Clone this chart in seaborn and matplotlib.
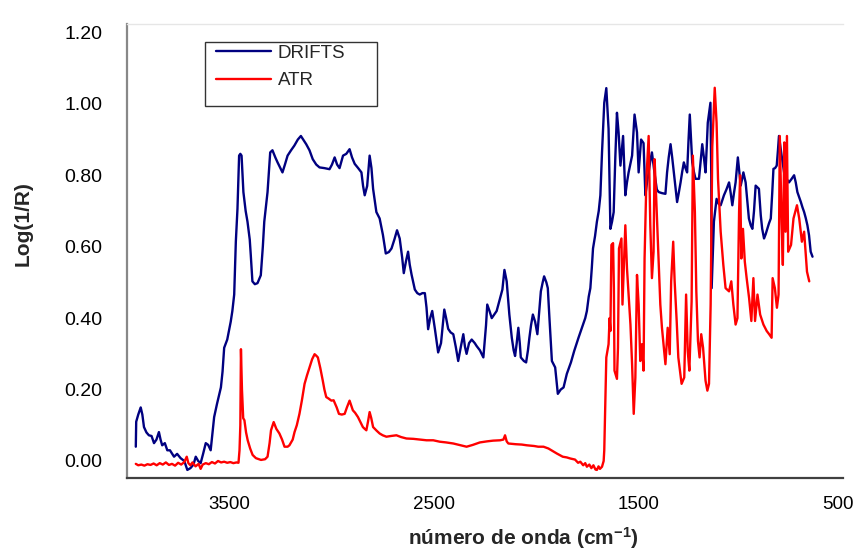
import numpy as np
import pandas as pd
import matplotlib
matplotlib.use("Agg")
import matplotlib.pyplot as plt
from matplotlib.patches import Rectangle
from matplotlib.transforms import ScaledTranslation
import seaborn as sns

# ---------------- data ----------------
drifts_wn = [3957, 3955, 3945, 3933, 3925, 3917, 3905, 3893, 3880, 3868, 3856, 3844, 3836, 3828,
             3815, 3803, 3790, 3770, 3755, 3738, 3720, 3705, 3690, 3675, 3664, 3652, 3640, 3628,
             3615, 3603, 3591, 3582, 3574, 3560, 3541, 3533, 3525, 3510, 3493, 3485, 3476, 3468,
             3460, 3452, 3446, 3440, 3431, 3420, 3411, 3400, 3395, 3387, 3375, 3362, 3346, 3336,
             3329, 3313, 3300, 3289, 3275, 3264, 3250, 3240, 3228, 3215, 3198, 3182, 3165, 3150,
             3124, 3108, 3092, 3075, 3059, 3035, 3010, 2998, 2985, 2973, 2961, 2944, 2928, 2912,
             2900, 2887, 2870, 2854, 2846, 2838, 2826, 2814, 2805, 2797, 2781, 2765, 2749, 2735,
             2720, 2707, 2693, 2680, 2667, 2655, 2647, 2636, 2626, 2618, 2609, 2593, 2581, 2569,
             2556, 2544, 2536, 2528, 2518, 2508, 2495, 2479, 2465, 2449, 2440, 2430, 2418, 2405,
             2393, 2381, 2368, 2356, 2348, 2340, 2328, 2315, 2300, 2291, 2275, 2258, 2245, 2239,
             2228, 2217, 2205, 2193, 2176, 2165, 2155, 2144, 2131, 2119, 2110, 2103, 2095, 2087,
             2080, 2075, 2060, 2049, 2040, 2033, 2025, 2016, 2005, 1994, 1985, 1977, 1968, 1961,
             1950, 1943, 1935, 1923, 1907, 1894, 1880, 1866, 1850, 1830, 1814, 1793, 1771, 1760,
             1752, 1743, 1735, 1728, 1722, 1712, 1703, 1694, 1686, 1678, 1667, 1657, 1646, 1637,
             1629, 1621, 1613, 1605, 1597, 1588, 1575, 1564, 1556, 1548, 1540, 1531, 1519, 1507,
             1499, 1487, 1475, 1466, 1458, 1450, 1442, 1434, 1420, 1410, 1401, 1385, 1368, 1360,
             1352, 1343, 1335, 1327, 1318, 1311, 1303, 1294, 1286, 1278, 1270, 1262, 1255, 1249,
             1243, 1237, 1229, 1221, 1204, 1196, 1188, 1180, 1172, 1166, 1161, 1148, 1144, 1142,
             1131, 1118, 1108, 1098, 1082, 1070, 1057, 1049, 1041, 1033, 1025, 1014, 1000, 993,
             987, 976, 968, 960, 951, 943, 935, 927, 911, 902, 895, 886, 878, 870, 862, 853,
             846, 840, 832, 824, 818, 813, 806, 800, 788, 776, 764, 751, 739, 731, 723, 706,
             698, 690, 682, 674, 666, 658, 649]
drifts_val = [0.04, 0.11, 0.13, 0.15, 0.13, 0.095, 0.08, 0.072, 0.07, 0.05, 0.06, 0.081, 0.06, 0.044,
              0.05, 0.03, 0.03, 0.012, 0.02, 0.008, 0.0, -0.025, -0.02, -0.01, 0.012, 0.0, -0.006, 0.02,
              0.05, 0.045, 0.03, 0.08, 0.123, 0.16, 0.206, 0.25, 0.317, 0.34, 0.39, 0.42, 0.466, 0.614,
              0.706, 0.855, 0.86, 0.855, 0.753, 0.70, 0.67, 0.62, 0.577, 0.503, 0.495, 0.498, 0.52, 0.60,
              0.67, 0.753, 0.864, 0.87, 0.85, 0.836, 0.82, 0.808, 0.83, 0.855, 0.87, 0.883, 0.90, 0.91,
              0.887, 0.87, 0.845, 0.83, 0.822, 0.82, 0.817, 0.83, 0.85, 0.83, 0.82, 0.855, 0.86, 0.873,
              0.85, 0.832, 0.82, 0.808, 0.77, 0.744, 0.77, 0.855, 0.82, 0.762, 0.697, 0.679, 0.633, 0.581,
              0.585, 0.595, 0.62, 0.646, 0.623, 0.57, 0.526, 0.56, 0.586, 0.55, 0.522, 0.48, 0.47, 0.466,
              0.47, 0.47, 0.43, 0.369, 0.40, 0.42, 0.37, 0.304, 0.33, 0.424, 0.40, 0.37, 0.36, 0.355,
              0.32, 0.28, 0.32, 0.355, 0.32, 0.30, 0.33, 0.34, 0.33, 0.322, 0.31, 0.29, 0.38, 0.438,
              0.42, 0.40, 0.41, 0.42, 0.456, 0.48, 0.535, 0.503, 0.41, 0.345, 0.31, 0.294, 0.33, 0.373,
              0.33, 0.29, 0.28, 0.276, 0.31, 0.345, 0.38, 0.41, 0.39, 0.355, 0.42, 0.475, 0.50, 0.517,
              0.50, 0.484, 0.40, 0.28, 0.262, 0.188, 0.20, 0.206, 0.244, 0.276, 0.308, 0.345, 0.382, 0.40,
              0.42, 0.46, 0.484, 0.54, 0.595, 0.63, 0.67, 0.70, 0.744, 0.864, 1.003, 1.044, 0.93, 0.65,
              0.67, 0.697, 0.85, 0.975, 0.92, 0.827, 0.91, 0.744, 0.78, 0.808, 0.83, 0.855, 0.97, 0.92,
              0.808, 0.90, 0.89, 0.744, 0.78, 0.808, 0.84, 0.864, 0.80, 0.76, 0.753, 0.75, 0.748, 0.808,
              0.85, 0.887, 0.85, 0.808, 0.76, 0.725, 0.75, 0.78, 0.81, 0.836, 0.82, 0.808, 0.90, 0.97,
              0.90, 0.836, 0.81, 0.79, 0.79, 0.84, 0.887, 0.85, 0.808, 0.88, 0.947, 1.003, 0.80, 0.484,
              0.67, 0.734, 0.72, 0.716, 0.744, 0.76, 0.78, 0.75, 0.716, 0.75, 0.78, 0.85, 0.771, 0.79,
              0.808, 0.78, 0.73, 0.679, 0.66, 0.65, 0.70, 0.771, 0.762, 0.688, 0.65, 0.623, 0.635, 0.65, 0.665, 0.679,
              0.75, 0.818, 0.82, 0.827, 0.87, 0.91, 0.88, 0.855, 0.808, 0.79, 0.78, 0.79, 0.80, 0.78, 0.753, 0.725,
              0.71, 0.697, 0.68, 0.66, 0.632, 0.586, 0.572]

atr_wn = [3957, 3945, 3930, 3915, 3900, 3885, 3870, 3855, 3840, 3825, 3810, 3795, 3780, 3765,
          3750, 3735, 3720, 3708, 3700, 3690, 3680, 3665, 3650, 3640, 3630, 3615, 3600, 3585,
          3570, 3555, 3540, 3525, 3510, 3495, 3480, 3465, 3455, 3450, 3446, 3443, 3438, 3432,
          3426, 3418, 3410, 3398, 3386, 3370, 3345, 3325, 3313, 3303, 3296, 3283, 3270, 3255,
          3242, 3230, 3215, 3206, 3190, 3181, 3170, 3157, 3145, 3132, 3120, 3108, 3095, 3083,
          3075, 3067, 3055, 3043, 3035, 3026, 3015, 3001, 2990, 2975, 2964, 2950, 2936, 2925,
          2912, 2904, 2896, 2885, 2871, 2860, 2847, 2838, 2830, 2822, 2814, 2806, 2797, 2780,
          2765, 2750, 2732, 2710, 2683, 2660, 2634, 2600, 2570, 2536, 2503, 2471, 2440, 2405,
          2370, 2340, 2310, 2275, 2240, 2210, 2176, 2160, 2152, 2144, 2136, 2100, 2070, 2046,
          2010, 1990, 1964, 1940, 1920, 1899, 1870, 1850, 1833, 1810, 1795, 1784, 1770, 1760,
          1752, 1740, 1730, 1720, 1710, 1703, 1695, 1688, 1678, 1670, 1667, 1657, 1646, 1641,
          1637, 1632, 1624, 1620, 1617, 1605, 1600, 1595, 1583, 1578, 1572, 1564, 1556, 1539,
          1531, 1523, 1515, 1507, 1499, 1491, 1483, 1475, 1470, 1461, 1450, 1442, 1434, 1426,
          1421, 1413, 1401, 1393, 1385, 1368, 1357, 1347, 1340, 1330, 1323, 1313, 1305, 1289,
          1276, 1267, 1259, 1251, 1240, 1234, 1224, 1217, 1209, 1201, 1193, 1184, 1172, 1163,
          1155, 1147, 1139, 1127, 1118, 1111, 1098, 1085, 1074, 1057, 1046, 1036, 1025, 1016,
          1008, 1003, 997, 989, 980, 971, 959, 948, 938, 930, 918, 905, 889, 873, 861, 849,
          844, 833, 823, 815, 809, 800, 794, 787, 781, 774, 768, 754, 742, 725, 714, 701,
          690, 676, 665]
atr_val = [-0.008, -0.012, -0.01, -0.013, -0.009, -0.011, -0.007, -0.012, -0.006, -0.01, -0.004, -0.011, -0.008, -0.013,
           -0.005, -0.01, -0.003, 0.012, -0.006, -0.012, -0.004, -0.015, -0.008, -0.022, -0.01, -0.006, -0.009, -0.003,
           -0.007, 0.0, -0.004, -0.002, -0.005, -0.003, -0.006, -0.004, -0.005, 0.03, 0.10, 0.313, 0.20, 0.12,
           0.114, 0.08, 0.058, 0.035, 0.017, 0.008, 0.003, 0.005, 0.012, 0.05, 0.086, 0.109, 0.09, 0.077,
           0.06, 0.04, 0.04, 0.044, 0.06, 0.081, 0.10, 0.132, 0.17, 0.216, 0.24, 0.262, 0.285, 0.299,
           0.295, 0.29, 0.26, 0.225, 0.20, 0.179, 0.175, 0.169, 0.17, 0.15, 0.132, 0.13, 0.132, 0.15,
           0.169, 0.155, 0.142, 0.135, 0.123, 0.11, 0.095, 0.09, 0.086, 0.11, 0.137, 0.12, 0.095, 0.085,
           0.077, 0.072, 0.068, 0.07, 0.072, 0.067, 0.063, 0.062, 0.06, 0.058, 0.058, 0.054, 0.052, 0.049,
           0.044, 0.04, 0.045, 0.052, 0.055, 0.057, 0.058, 0.06, 0.072, 0.055, 0.049, 0.047, 0.046, 0.044,
           0.042, 0.04, 0.04, 0.035, 0.028, 0.021, 0.012, 0.01, 0.007, 0.004, -0.005, -0.002, -0.012, -0.006,
           -0.016, -0.01, -0.02, -0.012, -0.024, -0.025, -0.015, -0.022, -0.016, 0.0, 0.03, 0.29, 0.327, 0.40,
           0.364, 0.605, 0.61, 0.484, 0.253, 0.23, 0.317, 0.595, 0.623, 0.438, 0.53, 0.66, 0.54, 0.382,
           0.271, 0.132, 0.234, 0.521, 0.438, 0.28, 0.327, 0.253, 0.567, 0.79, 0.91, 0.66, 0.512, 0.586,
           0.845, 0.734, 0.558, 0.438, 0.373, 0.271, 0.373, 0.299, 0.503, 0.614, 0.503, 0.392, 0.29, 0.216,
           0.234, 0.466, 0.308, 0.253, 0.447, 0.855, 0.697, 0.475, 0.336, 0.29, 0.355, 0.317, 0.225, 0.197,
           0.216, 0.438, 0.88, 1.045, 0.947, 0.79, 0.642, 0.549, 0.484, 0.475, 0.503, 0.438, 0.382, 0.40,
           0.697, 0.80, 0.567, 0.65, 0.558, 0.512, 0.456, 0.392, 0.512, 0.392, 0.466, 0.41, 0.382, 0.364, 0.355, 0.345,
           0.512, 0.484, 0.429, 0.466, 0.91, 0.67, 0.549, 0.892, 0.642, 0.91, 0.586, 0.605, 0.679, 0.716, 0.679, 0.614,
           0.642, 0.53, 0.503]

series_names = ["DRIFTS", "ATR"]
series_colors = ["#000080", "#FF0000"]
x_ticks = [3500, 2500, 1500, 500]
y_ticks = [0.0, 0.2, 0.4, 0.6, 0.8, 1.0, 1.2]

# ---------------- build table ----------------
df = pd.concat([
    pd.DataFrame({"wn": drifts_wn, "val": drifts_val, "serie": series_names[0]}),
    pd.DataFrame({"wn": atr_wn, "val": atr_val, "serie": series_names[1]}),
], ignore_index=True)

sns.set_style("white")
plt.rcParams["font.family"] = ["Liberation Sans", "DejaVu Sans"]
plt.rcParams["mathtext.fontset"] = "custom"
plt.rcParams["mathtext.bf"] = "Liberation Sans:bold"
plt.rcParams["mathtext.rm"] = "Liberation Sans:bold"
plt.rcParams["mathtext.default"] = "bf"

fig = plt.figure(figsize=(8.56, 5.54), dpi=100)
ax = fig.add_axes([127 / 856, 1 - 478 / 554, (843 - 127) / 856, (478 - 24) / 554])

sns.lineplot(data=df, x="wn", y="val", hue="serie", palette=dict(zip(series_names, series_colors)),
             sort=False, estimator=None, units="serie", linewidth=1.7, ax=ax, legend=False)

ax.set_xlim(4000, 500)
ax.set_ylim(-0.0476, 1.2235)
ax.set_xticks(x_ticks)
ax.set_xticklabels([str(t) for t in x_ticks])
ax.set_yticks(y_ticks)
ax.set_yticklabels([f"{t:.2f}" for t in y_ticks])
ax.set_xlabel("")
ax.set_ylabel("")

ax.tick_params(axis="x", direction="out", length=5, width=1, color="#404040",
               labelsize=13.5, pad=8, labelcolor="black")
ax.tick_params(axis="y", length=0, labelsize=14, pad=18, labelcolor="black")

ax.spines["right"].set_visible(False)
ax.spines["top"].set_color("#e6e6e6")
ax.spines["top"].set_linewidth(1.0)
ax.spines["left"].set_color("#888888")
ax.spines["left"].set_linewidth(1.6)
ax.spines["bottom"].set_color("#404040")
ax.spines["bottom"].set_linewidth(1.6)
ax.grid(False)

# keep the last tick label inside the picture: right-align it just past its tick
last_tick = ax.xaxis.get_major_ticks()[-1]
last_tick.label1.set_horizontalalignment("right")
last_tick.label1.set_transform(last_tick.label1.get_transform()
                               + ScaledTranslation(11 / 100, 0, fig.dpi_scale_trans))

# legend
handles = [plt.Line2D([], [], color=c, lw=1.7) for c in series_colors]
leg = ax.legend(handles, series_names, loc="upper left", bbox_to_anchor=(214 / 856, 1 - 43 / 554),
                bbox_transform=fig.transFigure, frameon=False, fontsize=13.5, borderpad=0.1,
                handlelength=2.95, handletextpad=0.35, labelspacing=0.55, borderaxespad=0)
fig.patches.append(Rectangle((205 / 856, 1 - 106 / 554), 172 / 856, 64 / 554, transform=fig.transFigure,
                             fill=False, edgecolor="#333333", linewidth=1.0))

fig.text(23 / 856, 1 - 224 / 554, "Log(1/R)", rotation=90, ha="center", va="center",
         fontsize=15, fontweight="bold")
fig.text(523 / 856, 1 - 538 / 554, r"número de onda (cm$^{-1}$)", ha="center", va="center",
         fontsize=15, fontweight="bold")

fig.savefig("out.png", dpi=100)
